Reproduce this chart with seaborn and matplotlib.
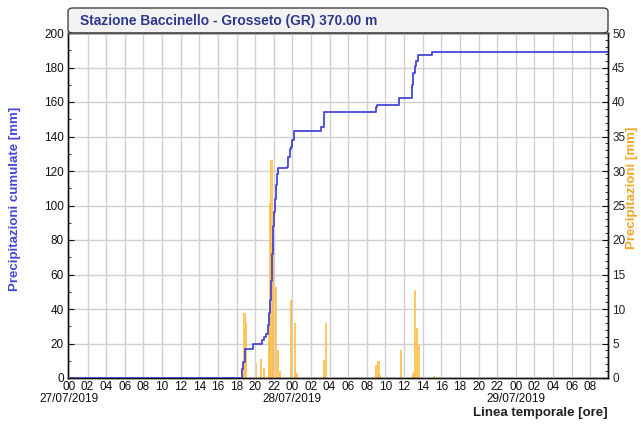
import numpy as np
import pandas as pd
import matplotlib
matplotlib.use("Agg")
import matplotlib.pyplot as plt
import matplotlib.patches as mpatches
from matplotlib.ticker import MultipleLocator, FixedLocator, FixedFormatter
import seaborn as sns

# hours counted from 27/07/2019 00:00
cum_hours = [0, 18.5, 18.6, 18.7, 18.9, 19.7, 19.8, 20.6, 20.7, 21.0, 21.2, 21.4,
             21.5, 21.6, 21.7, 21.8, 21.9, 22.0, 22.1, 22.2, 22.3, 22.5, 23.4, 23.5,
             23.7, 23.9, 24.0, 24.2, 27.0, 27.1, 27.4, 32.8, 33.0, 33.1, 35.3, 35.5,
             36.8, 36.9, 37.0, 37.2, 37.3, 37.5, 38.9, 39.0, 57.9]
cum_mm = [0, 0, 5, 9, 17, 17, 19.5, 20, 22, 24, 25.5, 30.5,
          37.5, 45, 56, 72, 88, 96, 104, 112, 118.5, 121.5, 122.5, 128,
          133, 134, 138, 143, 143, 145.5, 154, 154, 157, 158.5, 158.5, 162.5,
          162.5, 170, 177, 181, 184, 187.5, 187.5, 189, 189]

bar_hours = [18.85, 19.05, 20.1, 20.65, 20.95, 21.45, 21.6, 21.75, 21.9, 22.05,
             22.25, 22.45, 22.65, 23.85, 24.0, 24.25, 24.45, 27.4, 27.6, 33.0,
             33.25, 33.45, 35.7, 37.0, 37.2, 37.4, 37.6, 39.2]
bar_mm = [9.4, 8.0, 2.2, 2.7, 1.4, 6.5, 25.3, 31.6, 21.9, 16.6,
          13.2, 4.0, 1.0, 11.3, 11.3, 8.0, 0.7, 2.6, 8.0, 1.9,
          2.5, 0.5, 4.1, 0.7, 12.8, 7.3, 4.8, 0.3]

tick_hours = list(range(0, 57, 2))
tick_labels = ["%02d" % (h % 24) for h in tick_hours]
date_hours = [0, 24, 48]
date_labels = ["27/07/2019", "28/07/2019", "29/07/2019"]

title = "Stazione Baccinello - Grosseto (GR) 370.00 m"
line_color = "#4646d8"
bar_color = "#ffbb3d"

sns.set_style("white")
plt.rcParams["font.family"] = ["Liberation Sans", "DejaVu Sans"]

fig = plt.figure(figsize=(6.41, 4.30), dpi=100)
W, H = 641, 430
left, right, bottom, top = 68 / W, 608 / W, 1 - 378 / H, 1 - 33 / H

# title box
box = mpatches.FancyBboxPatch((left, top), right - left, 25 / H,
                              boxstyle="round,pad=0,rounding_size=0.008",
                              transform=fig.transFigure, facecolor="#f2f2f2",
                              edgecolor="#444444", linewidth=1, zorder=-1)
fig.patches.append(box)
fig.text(80 / W, 1 - 21 / H, title, fontsize=9.9, fontweight="bold",
         color="#2b3a8f", va="center", ha="left")

ax = fig.add_axes([left, bottom, right - left, top - bottom])
ax2 = ax.twinx()
ax.set_zorder(ax2.get_zorder() + 1)
ax.patch.set_visible(False)
ax2.patch.set_visible(True)
ax2.patch.set_facecolor("white")

# precipitation bars
ax2.bar(bar_hours, bar_mm, width=0.24, color=bar_color, alpha=0.8,
        linewidth=0, zorder=2)
ax2.set_ylim(0, 50)
ax2.yaxis.set_major_locator(MultipleLocator(5))
ax2.yaxis.set_minor_locator(MultipleLocator(1))
ax2.grid(True, which="major", axis="y", color="#d0d0d0", linewidth=1)
ax2.set_axisbelow(True)
ax2.set_ylabel("Precipitazioni [mm]", color="#f5a623", fontsize=9.5,
               fontweight="bold", rotation=90, va="center")
ax2.yaxis.set_label_coords(1.044, 0.55)

# cumulative line
df = pd.DataFrame({"ore": cum_hours, "cumulata": cum_mm})
sns.lineplot(data=df, x="ore", y="cumulata", ax=ax, color=line_color,
             drawstyle="steps-post", linewidth=1.3, estimator=None, zorder=3)
ax.grid(True, which="major", axis="x", color="#d0d0d0", linewidth=1, zorder=0)
ax.set_ylim(0, 200)
ax.set_xlim(-0.1, 57.9)
ax.yaxis.set_major_locator(MultipleLocator(20))
ax.yaxis.set_minor_locator(MultipleLocator(10))
ax.xaxis.set_major_locator(FixedLocator(tick_hours))
ax.xaxis.set_major_formatter(FixedFormatter(tick_labels))
ax.xaxis.set_minor_locator(MultipleLocator(1))
ax.set_xlabel("")
ax.set_ylabel("Precipitazioni cumulate [mm]", color=line_color, fontsize=9.5,
              fontweight="bold", va="center")
ax.yaxis.set_label_coords(-0.098, 0.52)

# date row under the hours
sec = ax.secondary_xaxis("bottom")
sec.set_xticks(date_hours)
sec.set_xticklabels(date_labels)
sec.tick_params(length=0, pad=11, labelsize=8.5, colors="#111111")
sec.spines["bottom"].set_visible(False)

for a in (ax, ax2):
    for s in a.spines.values():
        s.set_color("#111111")
        s.set_linewidth(1)
    a.tick_params(which="both", direction="in", labelsize=8.5, colors="#111111",
                  pad=3)
    a.tick_params(which="major", length=4)
    a.tick_params(which="minor", length=2)
ax.spines["top"].set_color("#555555")
ax.tick_params(axis="x", pad=2)
ax2.tick_params(axis="y", labelcolor="#222222")

fig.text(right, 1 - 413 / H, "Linea temporale [ore]", fontsize=9.5,
         fontweight="bold", color="#222222", ha="right", va="center")

fig.savefig("out.png", dpi=100)
